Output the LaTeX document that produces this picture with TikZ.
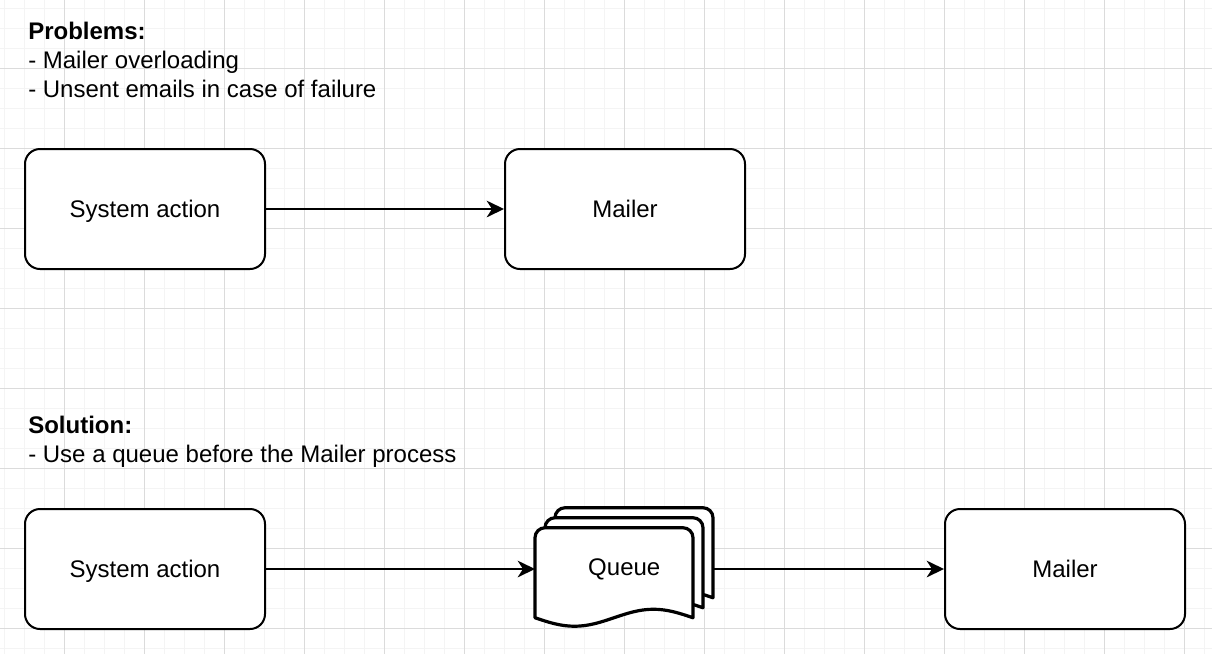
\documentclass[tikz,border=0pt]{standalone}
\usepackage{fontspec}
\setmainfont{Liberation Sans}
\usetikzlibrary{positioning, arrows.meta}
\pgfdeclarelayer{grid}
\pgfdeclarelayer{background}
\pgfsetlayers{grid,background,main}
\definecolor{gridminor}{gray}{0.955}
\definecolor{gridmajor}{gray}{0.86}
\tikzset{
  box/.style={rectangle, rounded corners=11.25pt, draw, line width=1.5pt, minimum width=180pt, minimum height=90pt, align=center, fill=white, text height=12.9pt, text depth=0pt},
  arrow/.style={-{Stealth[length=13pt, width=12.5pt, inset=4pt]}, line width=1.5pt},
  sheet/.style={draw, fill=white, line width=2.4pt, line join=round},
  note/.style={align=left, inner sep=0pt, anchor=base west},
}

\begin{document}
\begin{tikzpicture}[x=0.75pt, y=-0.75pt, font=\fontsize{18}{21.75}\selectfont, node distance=178.5pt]
  \useasboundingbox (0,0) rectangle (1212,654);

  % Grid
  \begin{pgfonlayer}{grid}
    \fill[white] (0,0) rectangle (1212,654);
    \foreach \x in {4,24,...,1204} \draw[gridminor, line width=0.75pt] (\x,0) -- (\x,654);
    \foreach \y in {8,28,...,648} \draw[gridminor, line width=0.75pt] (0,\y) -- (1212,\y);
    \foreach \x in {64,144,...,1184} \draw[gridmajor, line width=0.75pt] (\x,0) -- (\x,654);
    \foreach \y in {68,148,...,628} \draw[gridmajor, line width=0.75pt] (0,\y) -- (1212,\y);
  \end{pgfonlayer}

  % Problems
  \node[note] (problems) at (28,97) {\textbf{Problems:}\\- Mailer overloading\\- Unsent emails in case of failure};

  \node[box] (sysA) at (145,209) {System action};
  \node[box, right=of sysA] (mailA) {Mailer};
  \draw[arrow] (sysA) -- (mailA);

  % Solution
  \node[note] (solution) at (28,462) {\textbf{Solution:}\\- Use a queue before the Mailer process};

  \node[box] (sysB) at (145,569) {System action};
  \node[right=201.75pt of sysB, yshift=1.875pt, minimum width=133.5pt, minimum height=87.75pt, inner sep=0pt, text height=12.9pt, text depth=0pt] (queue) {Queue};
  \node[box, right=508.5pt of sysB] (mailB) {Mailer};

  % Queue sheets
  \begin{pgfonlayer}{background}
    \foreach \d in {20,10,0} {
      \path (queue.north west) ++(\d,20-\d) coordinate (s);
      \draw[sheet, shift={(s)}] (0,90) -- (0,10) arc[start angle=180, end angle=90, radius=7.5pt]
        -- (148,0) arc[start angle=90, end angle=0, radius=7.5pt] -- (158,90)
        sin (118.5,81.5) cos (79,90) sin (39.5,98.5) cos (0,90) -- cycle;
    }
  \end{pgfonlayer}

  \draw[arrow] (sysB.east) -- (sysB.east -| queue.west);
  \draw[arrow] (mailB.west -| queue.east) -- (mailB.west);

\end{tikzpicture}
\end{document}
